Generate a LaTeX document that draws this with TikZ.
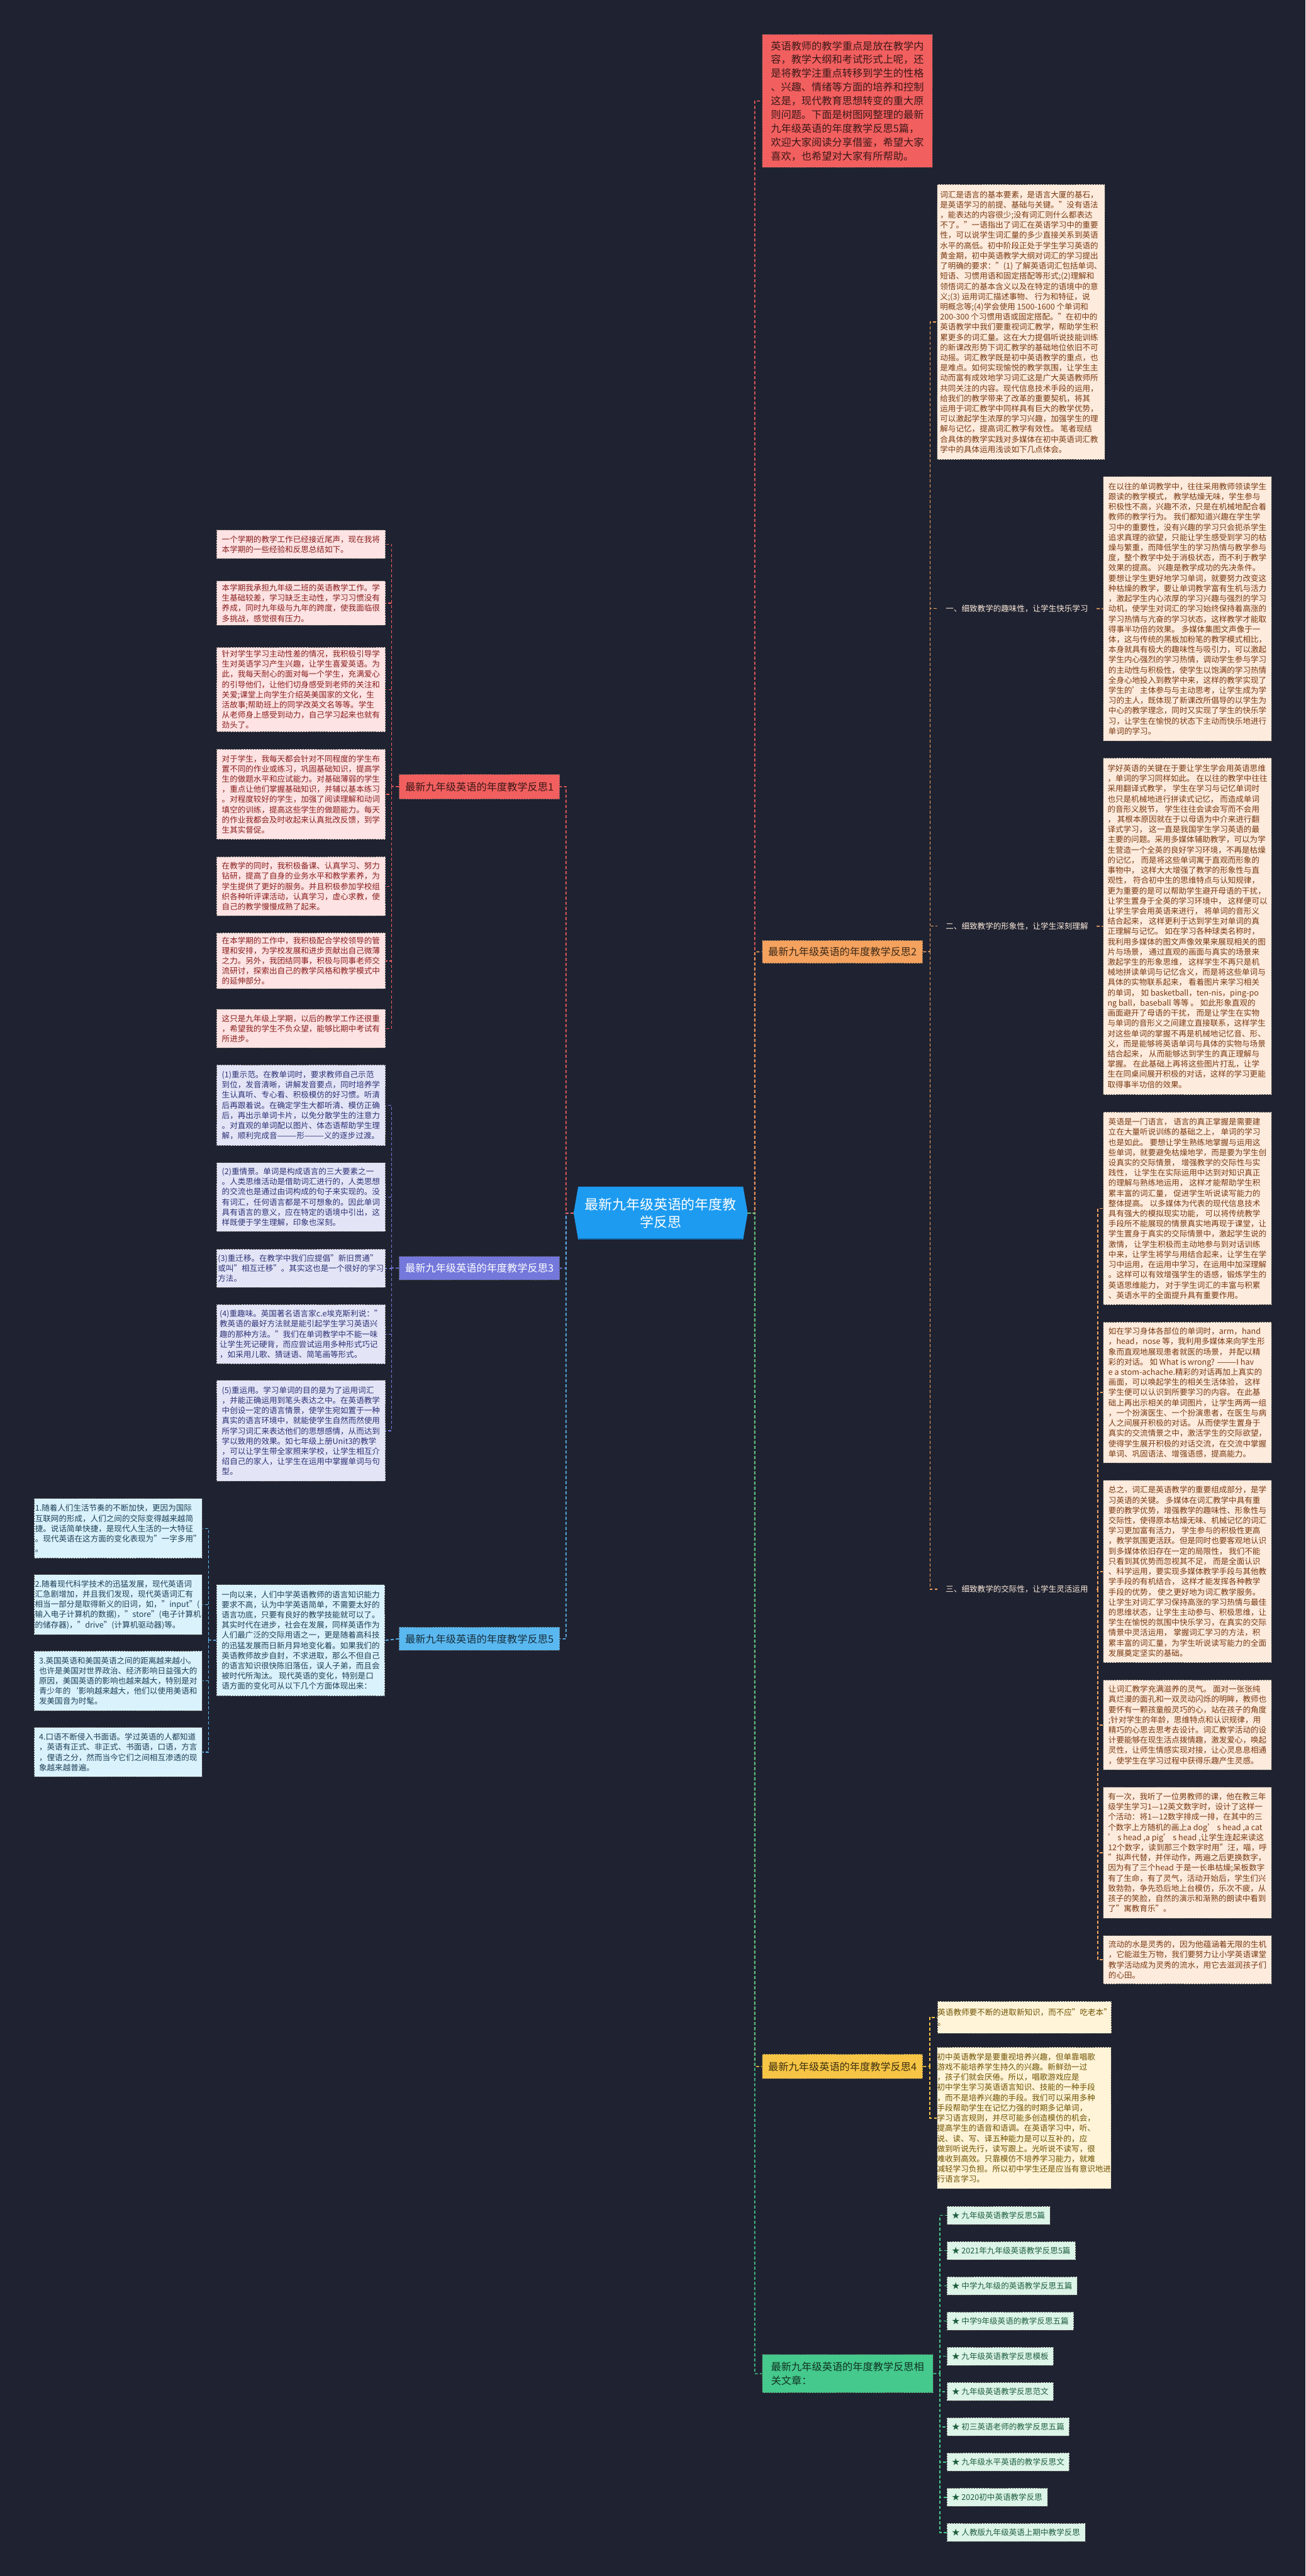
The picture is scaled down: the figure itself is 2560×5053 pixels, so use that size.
\documentclass[tikz,border=0pt]{standalone}
\usepackage{fontspec}
\setmainfont{Noto Sans CJK SC}
\usetikzlibrary{calc}

\definecolor{bgc}{HTML}{1F2230}
\definecolor{ctrblue}{HTML}{1D9BF0}
\definecolor{redc}{HTML}{F25F5F}
\definecolor{redfill}{HTML}{FDE3E3}
\definecolor{redtext}{HTML}{8A1E1E}
\definecolor{orgc}{HTML}{F4A25E}
\definecolor{orgfill}{HTML}{FDEBDD}
\definecolor{orgtext}{HTML}{7A3A12}
\definecolor{purc}{HTML}{7478DB}
\definecolor{purfill}{HTML}{E3E5F7}
\definecolor{purtext}{HTML}{2E3275}
\definecolor{yelc}{HTML}{F7C545}
\definecolor{yelfill}{HTML}{FFF4D8}
\definecolor{yeltext}{HTML}{6E5200}
\definecolor{bluc}{HTML}{5AB8F0}
\definecolor{blufill}{HTML}{DAF2FC}
\definecolor{blutext}{HTML}{1D4057}
\definecolor{grnc}{HTML}{45C98C}
\definecolor{grnfill}{HTML}{DDF4E8}
\definecolor{grntext}{HTML}{1E5E3E}

\tikzset{
  card/.style={anchor=north west, inner sep=0pt, align=left,
    font=\fontsize{15.5}{20}\selectfont, draw=black!70, line width=1.2pt,
    dash pattern=on 3pt off 2pt},
  card1/.style={card, fill=redfill, text=redtext},
  card2/.style={card, fill=orgfill, text=orgtext},
  card3/.style={card, fill=purfill, text=purtext},
  card4/.style={card, fill=yelfill, text=yeltext},
  card5/.style={card, fill=blufill, text=blutext},
  item/.style={card, fill=grnfill, text=grntext, inner xsep=10pt, minimum height=36pt},
  topic/.style={anchor=north west, inner sep=0pt, align=left,
    font=\fontsize{20}{27}\selectfont, draw=black!70, line width=1.2pt,
    dash pattern=on 3pt off 2pt, minimum width=315pt},
  sub/.style={anchor=north west, inner sep=0pt, align=left, text=orgfill,
    font=\fontsize{15.5}{20}\selectfont, minimum width=312pt, minimum height=33pt},
  link/.style={line width=2pt, dash pattern=on 6pt off 4pt},
}

\begin{document}
\begin{tikzpicture}[x=1pt, y=-1pt]
\useasboundingbox (0,0) rectangle (2560,5053);
\fill[bgc] (0,0) rectangle (2560,5053);

% centre topic
\node[minimum width=341pt, minimum height=103pt, inner sep=0pt] (ctr) at (1295.5,2379.5) {};
\fill[ctrblue] ([xshift=9pt]ctr.north west) -- ([xshift=-9pt]ctr.north east) -- (ctr.east)
  -- ([xshift=-9pt]ctr.south east) -- ([xshift=9pt]ctr.south west) -- (ctr.west) -- cycle;
\draw[ctrblue!70!black, line width=2pt] ([xshift=10pt,yshift=1pt]ctr.south west) -- ([xshift=-10pt,yshift=1pt]ctr.south east);
\node[text=white, align=center, font=\fontsize{27}{35}\selectfont] (ctrtext) at (ctr) {最新九年级英语的年度教\\学反思};

% intro
\node[topic, fill=redc, text=redc!25!black, minimum width=334pt, minimum height=261pt] (intro) at (1494,67) {英语教师的教学重点是放在教学内\\容，教学大纲和考试形式上呢，还\\是将教学注重点转移到学生的性格\\、兴趣、情绪等方面的培养和控制\\这是，现代教育思想转变的重大原\\则问题。下面是树图网整理的最新\\九年级英语的年度教学反思5篇，\\欢迎大家阅读分享借鉴，希望大家\\喜欢，也希望对大家有所帮助。};

% main branches
\node[topic, fill=redc, text=redc!25!black, minimum height=49pt] (b1) at (782,1518) {最新九年级英语的年度教学反思1};
\node[topic, fill=orgc, text=orgc!25!black, minimum height=45pt] (b2) at (1494,1844) {最新九年级英语的年度教学反思2};
\node[topic, fill=purc, text=white, minimum height=46pt] (b3) at (782,2464) {最新九年级英语的年度教学反思3};
\node[topic, fill=yelc, text=yelc!25!black, minimum height=48pt] (b4) at (1494,4029) {最新九年级英语的年度教学反思4};
\node[topic, fill=bluc, text=bluc!25!black, minimum height=46pt] (b5) at (782,3191) {最新九年级英语的年度教学反思5};
\node[topic, fill=grnc, text=grnc!25!black, minimum width=335pt, minimum height=75pt] (rel) at (1494,4618) {最新九年级英语的年度教学反思相\\关文章：};

% branch 1
\node[card1, minimum width=331pt, minimum height=56pt] (b1a) at (424,1039) {一个学期的教学工作已经接近尾声，现在我将\\本学期的一些经验和反思总结如下。};
\node[card1, minimum width=331pt, minimum height=87pt] (b1b) at (424,1139) {本学期我承担九年级二班的英语教学工作。学\\生基础较差，学习缺乏主动性，学习习惯没有\\养成，同时九年级与九年的跨度，使我面临很\\多挑战，感觉很有压力。};
\node[card1, minimum width=331pt, minimum height=166pt] (b1c) at (424,1269) {针对学生学习主动性差的情况，我积极引导学\\生对英语学习产生兴趣，让学生喜爱英语。为\\此，我每天耐心的面对每一个学生，充满爱心\\的引导他们，让他们切身感受到老师的关注和\\关爱;课堂上向学生介绍英美国家的文化，生\\活故事;帮助班上的同学改英文名等等。学生\\从老师身上感受到动力，自己学习起来也就有\\劲头了。};
\node[card1, minimum width=331pt, minimum height=177pt] (b1d) at (424,1469) {对于学生，我每天都会针对不同程度的学生布\\置不同的作业或练习，巩固基础知识，提高学\\生的做题水平和应试能力。对基础薄弱的学生\\，重点让他们掌握基础知识，并辅以基本练习\\。对程度较好的学生，加强了阅读理解和动词\\填空的训练，提高这些学生的做题能力。每天\\的作业我都会及时收起来认真批改反馈，到学\\生其实督促。};
\node[card1, minimum width=331pt, minimum height=116pt] (b1e) at (424,1680) {在教学的同时，我积极备课、认真学习、努力\\钻研，提高了自身的业务水平和教学素养，为\\学生提供了更好的服务。并且积极参加学校组\\织各种听评课活动，认真学习，虚心求教，使\\自己的教学慢慢成熟了起来。};
\node[card1, minimum width=331pt, minimum height=110pt] (b1f) at (424,1829) {在本学期的工作中，我积极配合学校领导的管\\理和安排，为学校发展和进步贡献出自己微薄\\之力。另外，我团结同事，积极与同事老师交\\流研讨，探索出自己的教学风格和教学模式中\\的延伸部分。};
\node[card1, minimum width=331pt, minimum height=76pt] (b1g) at (424,1979) {这只是九年级上学期，以后的教学工作还很重\\，希望我的学生不负众望，能够比期中考试有\\所进步。};

% branch 3
\node[card3, minimum width=331pt, minimum height=159pt] (b3a) at (424,2088) {(1)重示范。在教单词时，要求教师自己示范\\到位，发音清晰，讲解发音要点，同时培养学\\生认真听、专心看、积极模仿的好习惯。听清\\后再跟着说。在确定学生大都听清、模仿正确\\后，再出示单词卡片，以免分散学生的注意力\\。对直观的单词配以图片、体态语帮助学生理\\解，顺利完成音———形———义的逐步过渡。};
\node[card3, minimum width=331pt, minimum height=135pt] (b3b) at (424,2280) {(2)重情景。单词是构成语言的三大要素之一\\。人类思维活动是借助词汇进行的，人类思想\\的交流也是通过由词构成的句子来实现的。没\\有词汇，任何语言都是不可想象的。因此单词\\具有语言的意义，应在特定的语境中引出，这\\样既便于学生理解，印象也深刻。};
\node[card3, minimum width=331pt, minimum height=75pt] (b3c) at (424,2450) {(3)重迁移。在教学中我们应提倡"新旧贯通"\\或叫"相互迁移"。其实这也是一个很好的学习\\方法。};
\node[card3, minimum width=331pt, minimum height=117pt] (b3d) at (424,2558) {(4)重趣味。英国著名语言家c.e埃克斯利说："\\教英语的最好方法就是能引起学生学习英语兴\\趣的那种方法。"我们在单词教学中不能一味\\让学生死记硬背，而应尝试运用多种形式巧记\\，如采用儿歌、猜谜语、简笔画等形式。};
\node[card3, minimum width=331pt, minimum height=198pt] (b3e) at (424,2707) {(5)重运用。学习单词的目的是为了运用词汇\\，并能正确运用到笔头表达之中。在英语教学\\中创设一定的语言情景，使学生宛如置于一种\\真实的语言环境中，就能使学生自然而然使用\\所学习词汇来表达他们的思想感情，从而达到\\学以致用的效果。如七年级上册Unit3的教学\\，可以让学生带全家照来学校，让学生相互介\\绍自己的家人，让学生在运用中掌握单词与句\\型。};

% branch 5
\node[card5, minimum width=330pt, minimum height=218pt] (m5) at (424,3108) {一向以来，人们中学英语教师的语言知识能力\\要求不高，认为中学英语简单，不需要太好的\\语言功底，只要有良好的教学技能就可以了。\\其实时代在进步，社会在发展，同样英语作为\\人们最广泛的交际用语之一，更是随着高科技\\的迅猛发展而日新月异地变化着。如果我们的\\英语教师故步自封，不求进取，那么不但自己\\的语言知识很快陈旧落伍，误人子弟，而且会\\被时代所淘汰。 现代英语的变化，特别是口\\语方面的变化可从以下几个方面体现出来：};
\node[card5, minimum width=330pt, minimum height=117pt] (f1) at (66,2939) {1.随着人们生活节奏的不断加快，更因为国际\\互联网的形成，人们之间的交际变得越来越简\\捷。说话简单快捷，是现代人生活的一大特征\\。现代英语在这方面的变化表现为"一字多用"\\。};
\node[card5, minimum width=330pt, minimum height=118pt] (f2) at (66,3088) {2.随着现代科学技术的迅猛发展，现代英语词\\汇急剧增加，并且我们发现，现代英语词汇有\\相当一部分是取得新义的旧词，如，"input"(\\输入电子计算机的数据)，"store"(电子计算机\\的储存器)，"drive"(计算机驱动器)等。};
\node[card5, minimum width=330pt, minimum height=117pt] (f3) at (66,3238) {3.英国英语和美国英语之间的距离越来越小。\\也许是美国对世界政治、经济影响日益强大的\\原因，美国英语的影响也越来越大，特别是对\\青少年的`影响越来越大，他们以使用美语和\\发美国音为时髦。};
\node[card5, minimum width=330pt, minimum height=97pt] (f4) at (66,3388) {4.口语不断侵入书面语。学过英语的人都知道\\，英语有正式、非正式、书面语，口语，方言\\，俚语之分，然而当今它们之间相互渗透的现\\象越来越普遍。};

% branch 2
\node[card2, minimum width=329pt, minimum height=540pt] (r1) at (1837,361) {词汇是语言的基本要素，是语言大厦的基石，\\是英语学习的前提、基础与关键。"没有语法\\，能表达的内容很少;没有词汇则什么都表达\\不了。"一语指出了词汇在英语学习中的重要\\性，可以说学生词汇量的多少直接关系到英语\\水平的高低。初中阶段正处于学生学习英语的\\黄金期，初中英语教学大纲对词汇的学习提出\\了明确的要求："(1) 了解英语词汇包括单词、\\短语、习惯用语和固定搭配等形式;(2)理解和\\领悟词汇的基本含义以及在特定的语境中的意\\义;(3) 运用词汇描述事物、 行为和特征，说\\明概念等;(4)学会使用 1500-1600 个单词和\\200-300 个习惯用语或固定搭配。"在初中的\\英语教学中我们要重视词汇教学，帮助学生积\\累更多的词汇量。这在大力提倡听说技能训练\\的新课改形势下词汇教学的基础地位依旧不可\\动摇。词汇教学既是初中英语教学的重点，也\\是难点。如何实现愉悦的教学氛围，让学生主\\动而富有成效地学习词汇这是广大英语教师所\\共同关注的内容。现代信息技术手段的运用，\\ 给我们的教学带来了改革的重要契机，将其\\运用于词汇教学中同样具有巨大的教学优势，\\可以激起学生浓厚的学习兴趣，加强学生的理\\解与记忆，提高词汇教学有效性。 笔者现结\\合具体的教学实践对多媒体在初中英语词汇教\\学中的具体运用浅谈如下几点体会。};
\node[sub] (k1) at (1838,1177) {一、细致教学的趣味性，让学生快乐学习};
\node[sub] (k2) at (1838,1800) {二、细致教学的形象性，让学生深刻理解};
\node[sub] (k3) at (1838,3101) {三、细致教学的交际性，让学生灵活运用};
\node[card2, minimum width=330pt, minimum height=519pt] (r2) at (2163,934) {在以往的单词教学中，往往采用教师领读学生\\跟读的教学模式， 教学枯燥无味，学生参与\\积极性不高，兴趣不浓，只是在机械地配合着\\教师的教学行为。 我们都知道兴趣在学生学\\习中的重要性，没有兴趣的学习只会扼杀学生\\追求真理的欲望，只能让学生感受到学习的枯\\燥与繁重，而降低学生的学习热情与教学参与\\度，整个教学中处于消极状态，而不利于教学\\效果的提高。 兴趣是教学成功的先决条件。\\要想让学生更好地学习单词，就要努力改变这\\种枯燥的教学，要让单词教学富有生机与活力\\，激起学生内心浓厚的学习兴趣与强烈的学习\\动机，使学生对词汇的学习始终保持着高涨的\\学习热情与亢奋的学习状态，这样教学才能取\\得事半功倍的效果。 多媒体集图文声像于一\\体，这与传统的黑板加粉笔的教学模式相比，\\本身就具有极大的趣味性与吸引力，可以激起\\学生内心强烈的学习热情，调动学生参与学习\\的主动性与积极性，使学生以饱满的学习热情\\全身心地投入到教学中来，这样的教学实现了\\学生的'主体参与与主动思考，让学生成为学\\习的主人，既体现了新课改所倡导的以学生为\\中心的教学理念，同时又实现了学生的快乐学\\习，让学生在愉悦的状态下主动而快乐地进行\\单词的学习。};
\node[card2, minimum width=330pt, minimum height=661pt] (r3) at (2163,1486) {学好英语的关键在于要让学生学会用英语思维\\，单词的学习同样如此。 在以往的教学中往往\\采用翻译式教学， 学生在学习与记忆单词时\\也只是机械地进行拼读式记忆， 而造成单词\\的音形义脱节， 学生往往会读会写而不会用\\， 其根本原因就在于以母语为中介来进行翻\\译式学习， 这一直是我国学生学习英语的最\\主要的问题。采用多媒体辅助教学，可以为学\\生营造一个全英的良好学习环境，不再是枯燥\\的记忆， 而是将这些单词寓于直观而形象的\\事物中， 这样大大增强了教学的形象性与直\\观性， 符合初中生的思维特点与认知规律，\\更为重要的是可以帮助学生避开母语的干扰，\\让学生置身于全英的学习环境中， 这样便可以\\让学生学会用英语来进行， 将单词的音形义\\结合起来， 这样更利于达到学生对单词的真\\正理解与记忆。 如在学习各种球类名称时，\\我利用多媒体的图文声像效果来展现相关的图\\片与场景， 通过直观的画面与真实的场景来\\激起学生的形象思维， 这样学生不再只是机\\械地拼读单词与记忆含义，而是将这些单词与\\具体的实物联系起来， 看着图片来学习相关\\的单词， 如 basketball，ten-nis，ping-po\\ng ball，baseball 等等 。 如此形象直观的\\画面避开了母语的干扰， 而是让学生在实物\\与单词的音形义之间建立直接联系，这样学生\\对这些单词的掌握不再是机械地记忆音、形、\\义，而是能够将英语单词与具体的实物与场景\\结合起来， 从而能够达到学生的真正理解与\\掌握。 在此基础上再将这些图片打乱，让学\\生在同桌间展开积极的对话，这样的学习更能\\取得事半功倍的效果。};
\node[card2, minimum width=330pt, minimum height=378pt] (r4) at (2163,2181) {英语是一门语言， 语言的真正掌握是需要建\\立在大量听说训练的基础之上， 单词的学习\\也是如此。 要想让学生熟练地掌握与运用这\\些单词，就要避免枯燥地学，而是要为学生创\\设真实的交际情景， 增强教学的交际性与实\\践性， 让学生在实际运用中达到对知识真正\\的理解与熟练地运用， 这样才能帮助学生积\\累丰富的词汇量， 促进学生听说读写能力的\\整体提高。 以多媒体为代表的现代信息技术\\具有强大的模拟现实功能， 可以将传统教学\\手段所不能展现的情景真实地再现于课堂，让\\学生置身于真实的交际情景中，激起学生说的\\激情， 让学生积极而主动地参与到对话训练\\中来，让学生将学与用结合起来，让学生在学\\习中运用，在运用中学习，在运用中加深理解\\。这样可以有效增强学生的语感，锻炼学生的\\英语思维能力， 对于学生词汇的丰富与积累\\、英语水平的全面提升具有重要作用。};
\node[card2, minimum width=330pt, minimum height=276pt] (r5) at (2163,2593) {如在学习身体各部位的单词时，arm，hand\\，head，nose 等，我利用多媒体来向学生形\\象而直观地展现患者就医的场景， 并配以精\\彩的对话。 如 What is wrong? ———I hav\\e a stom-achache.精彩的对话再加上真实的\\画面，可以唤起学生的相关生活体验， 这样\\学生便可以认识到所要学习的内容。 在此基\\础上再出示相关的单词图片，让学生两两一组\\，一个扮演医生、一个扮演患者，在医生与病\\人之间展开积极的对话。 从而使学生置身于\\真实的交流情景之中，激活学生的交际欲望，\\使得学生展开积极的对话交流，在交流中掌握\\单词、巩固语法、增强语感，提高能力。};
\node[card2, minimum width=330pt, minimum height=358pt] (r6) at (2163,2903) {总之，词汇是英语教学的重要组成部分，是学\\习英语的关键。 多媒体在词汇教学中具有重\\要的教学优势，增强教学的趣味性、形象性与\\交际性，使得原本枯燥无味、机械记忆的词汇\\学习更加富有活力， 学生参与的积极性更高\\，教学氛围更活跃。但是同时也要客观地认识\\到多媒体依旧存在一定的局限性， 我们不能\\只看到其优势而忽视其不足， 而是全面认识\\、科学运用，要实现多媒体教学手段与其他教\\学手段的有机结合， 这样才能发挥各种教学\\手段的优势， 使之更好地为词汇教学服务。\\让学生对词汇学习保持高涨的学习热情与最佳\\的思维状态，让学生主动参与、积极思维，让\\学生在愉悦的氛围中快乐学习，在真实的交际\\情景中灵活运用， 掌握词汇学习的方法，积\\累丰富的词汇量，为学生听说读写能力的全面\\发展奠定坚实的基础。};
\node[card2, minimum width=330pt, minimum height=176pt] (r7) at (2163,3295) {让词汇教学充满滋养的灵气。 面对一张张纯\\真烂漫的面孔和一双灵动闪烁的明眸，教师也\\要怀有一颗孩童般灵巧的心，站在孩子的角度\\;针对学生的年龄，思维特点和认识规律，用\\精巧的心思去思考去设计。词汇教学活动的设\\计要能够在现生活点拨情趣，激发爱心，唤起\\灵性，让师生情感实现对接，让心灵息息相通\\，使学生在学习过程中获得乐趣产生灵感。};
\node[card2, minimum width=330pt, minimum height=257pt] (r8) at (2163,3505) {有一次，我听了一位男教师的课，他在教三年\\级学生学习1—12英文数字时，设计了这样一\\个活动：将1—12数字排成一排，在其中的三\\个数字上方随机的画上a dog’ s head ,a cat\\’ s head ,a pig’ s head ,让学生连起来读这\\12个数字，读到那三个数字时用"汪，喵，呼\\"拟声代替，并伴动作，两遍之后更换数字，\\因为有了三个head 于是一长串枯燥;呆板数字\\有了生命，有了灵气，活动开始后，学生们兴\\致勃勃，争先恐后地上台模仿，乐次不疲，从\\孩子的笑脸，自然的演示和渐熟的朗读中看到\\了"寓教育乐"。};
\node[card2, minimum width=330pt, minimum height=95pt] (r9) at (2163,3796) {流动的水是灵秀的，因为他蕴涵着无限的生机\\，它能滋生万物，我们要努力让小学英语课堂\\教学活动成为灵秀的流水，用它去滋润孩子们\\的心田。};

% branch 4
\node[card4, minimum width=328pt, minimum height=63pt] (d1) at (1838,3925) {英语教师要不断的进取新知识，而不应"吃老本"\\。};
\node[card4, minimum width=330pt, minimum height=278pt] (d2) at (1837,4015) {初中英语教学是要重视培养兴趣，但单靠唱歌\\游戏不能培养学生持久的兴趣。新鲜劲一过\\，孩子们就会厌倦。所以，唱歌游戏应是\\初中学生学习英语语言知识、技能的一种手段\\，而不是培养兴趣的手段。我们可以采用多种\\手段帮助学生在记忆力强的时期多记单词，\\学习语言规则，并尽可能多创造模仿的机会，\\提高学生的语音和语调。在英语学习中，听、\\说、读、写、译五种能力是可以互补的，应\\做到听说先行，读写跟上。光听说不读写，很\\难收到高效。只靠模仿不培养学习能力，就难\\减轻学习负担。所以初中学生还是应当有意识地进\\行语言学习。};

% related articles
\foreach \t [count=\i] in {九年级英语教学反思5篇, 2021年九年级英语教学反思5篇, 中学九年级的英语教学反思五篇, 中学9年级英语的教学反思五篇, 九年级英语教学反思模板, 九年级英语教学反思范文, 初三英语老师的教学反思五篇, 九年级水平英语的教学反思文, 2020初中英语教学反思, 人教版九年级英语上期中教学反思}
  \node[item] (g\i) at (1856,{4327+(\i-1)*69.1}) {★ \t};

% connectors
\coordinate (lt) at (1110,2380);
\coordinate (rt) at (1480,2380);
\draw[link, purc] (ctr.west) -- (lt) |- (b3.east);
\draw[link, bluc] (ctr.west) -- (lt) |- (b5.east);
\draw[link, redc] (ctr.west) -- (lt) |- (b1.east);
\draw[link, redc] (ctr.east) -- (rt) |- (intro.west);
\draw[link, orgc] (ctr.east) -- (rt) |- (b2.west);
\draw[link, yelc] (ctr.east) -- (rt) |- (b4.west);
\draw[link, grnc] (ctr.east) -- (rt) |- (rel.west);

\coordinate (s1) at (768,1542.5);
\draw[link, redc] (b1.west) -- (s1);
\foreach \n in {a,...,g} \draw[link, redc] (s1) |- (b1\n.east);

\coordinate (s3) at (768,2487);
\draw[link, purc] (b3.west) -- (s3);
\foreach \n in {a,...,e} \draw[link, purc] (s3) |- (b3\n.east);

\draw[link, bluc] (b5.west) -- (m5.east);
\coordinate (s5) at (409,3217);
\draw[link, bluc] (m5.west) -- (s5);
\foreach \n in {1,...,4} \draw[link, bluc] (s5) |- (f\n.east);

\coordinate (s2) at (1824,1866.5);
\draw[link, orgc] (b2.east) -- (s2);
\foreach \n in {r1,k1,k2,k3} \draw[link, orgc] (s2) |- (\n.west);
\draw[link, orgc] (k1.east) -- (r2.west);
\draw[link, orgc] (k2.east) -- (r3.west);
\coordinate (s23) at (2153,3117.5);
\draw[link, orgc] (k3.east) -- (s23);
\foreach \n in {4,...,9} \draw[link, orgc] (s23) |- (r\n.west);

\coordinate (s4) at (1823,4053);
\draw[link, yelc] (b4.east) -- (s4);
\foreach \n in {d1,d2} \draw[link, yelc] (s4) |- (\n.west);

\coordinate (sg) at (1843,4655.5);
\draw[link, grnc] (rel.east) -- (sg);
\foreach \i in {1,...,10} \draw[link, grnc] (sg) |- (g\i.west);
\end{tikzpicture}
\end{document}
